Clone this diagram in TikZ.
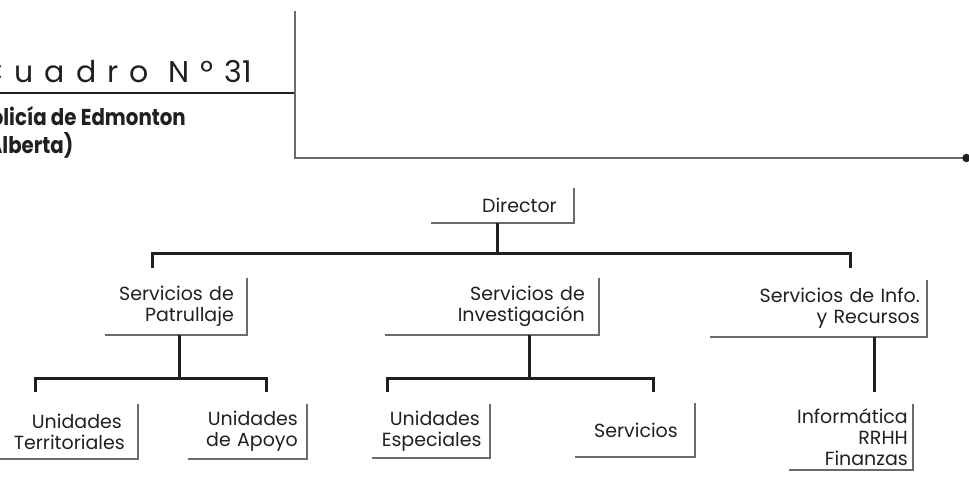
\documentclass[tikz,border=0pt]{standalone}
\usepackage{fontspec}
\setmainfont{Poppins}
\definecolor{ink}{HTML}{231F20}
\definecolor{rulegray}{HTML}{6A6A6A}
\begin{document}
\begin{tikzpicture}[x=1pt,y=-1pt,
  conn/.style={draw=ink, line width=3pt, line join=miter},
  frame/.style={draw=rulegray, line width=2pt, line join=miter},
  orgbox/.style n args={3}{anchor=east, align=right, text width=#1pt,
    minimum height=#2pt, inner xsep=#3pt, inner ysep=0pt, text=ink,
    font=\fontsize{19}{21}\selectfont}]
\useasboundingbox (0,0) rectangle (969,498);

% header
\draw[draw=ink, line width=2pt] (-5,92.5) -- (295,92.5);
\draw[frame, line width=2.2pt] (295,11) -- (295,158) -- (963,158);
\fill[ink] (966.5,158) circle (4.2);
\node[anchor=base east, text=ink, inner sep=0pt, font=\fontsize{30}{32}\selectfont]
  (title) at (252,82) {{\addfontfeature{LetterSpace=37}Cuadro Nº}\kern11pt31};
\node[anchor=north east, align=left, text=ink, inner sep=0pt,
  font=\bfseries\addfontfeature{FakeStretch=0.86}\fontsize{23}{28}\selectfont]
  (sub) at (186,106) {Policía de Edmonton\\(Alberta)};

% boxes: text width, height, right padding; placed by their right edge
\node[orgbox={109}{35}{17}]  (dir)  at (574,205.5) {Director};
\node[orgbox={116}{57}{13}]  (pat)  at (247,306.5) {Servicios de\\Patrullaje};
\node[orgbox={186}{57}{14}]  (inv)  at (599,306.5) {Servicios de\\Investigación};
\node[orgbox={203}{57}{7}]   (info) at (927,308.5) {Servicios de Info.\\y Recursos};
\node[orgbox={108}{55}{16}]  (ter)  at (138,431.5) {Unidades\\Territoriales};
\node[orgbox={101}{55}{9}]   (apo)  at (307,431.5) {Unidades\\de Apoyo};
\node[orgbox={98}{54}{10}]   (esp)  at (490,431)   {Unidades\\Especiales};
\node[orgbox={86}{54}{17}]   (srv)  at (695,430)   {Servicios};
\node[orgbox={114}{66}{5}]   (inf)  at (913,437)   {Informática\\RRHH\\Finanzas};

\foreach \n in {dir,pat,inv,info,ter,apo,esp,srv,inf}
  \draw[frame] (\n.north east) -- (\n.south east) -- (\n.south west);

% connectors
\coordinate (b0) at (497,253);
\coordinate (d1) at (152,268);
\coordinate (d2) at (850,268);
\draw[conn] (dir.south -| b0) -- (b0);
\draw[conn] (d1) |- (b0 -| d2) -- (d2);

\coordinate (b1) at (179,378);
\coordinate (d3) at (35,392);
\coordinate (d4) at (266,392);
\draw[conn] (pat.south -| b1) -- (b1);
\draw[conn] (d3) |- (b1 -| d4) -- (d4);

\coordinate (b2) at (529,378);
\coordinate (d5) at (387,392);
\coordinate (d6) at (653,392);
\draw[conn] (inv.south -| b2) -- (b2);
\draw[conn] (d5) |- (b2 -| d6) -- (d6);

\coordinate (d7) at (874,392);
\draw[conn] (info.south -| d7) -- (d7);
\end{tikzpicture}
\end{document}
